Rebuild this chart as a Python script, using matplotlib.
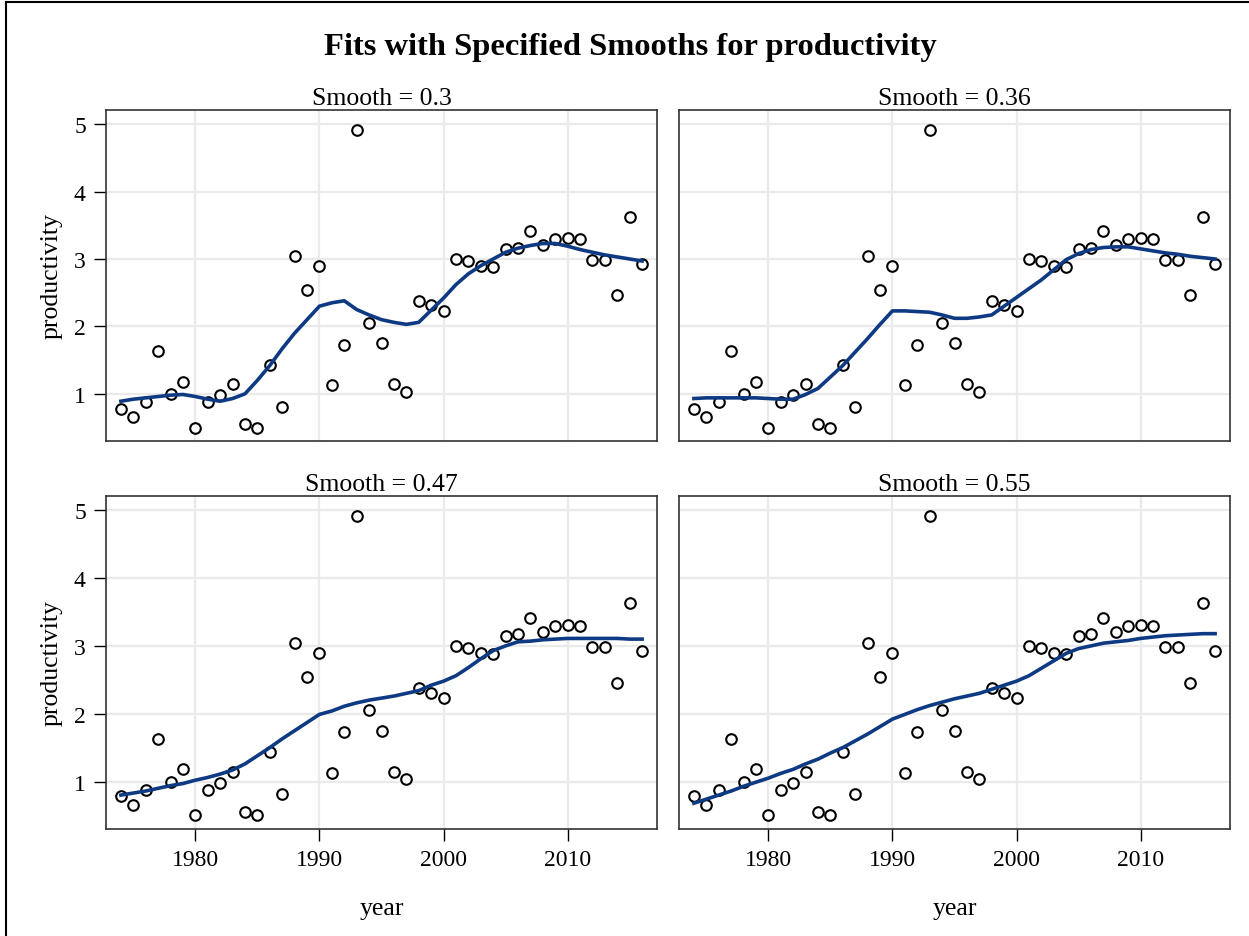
""" Fits with specified smooths for productivity (4 panel loess figure) """

import matplotlib
matplotlib.use("Agg")
from matplotlib import pyplot as plt
from matplotlib.lines import Line2D

plt.rcParams['font.family'] = ['Liberation Serif', 'DejaVu Serif']

years = list(range(1974, 2017))

productivity = [0.78, 0.65, 0.88, 1.63, 1.00, 1.18, 0.50, 0.88, 0.98, 1.14,
                0.55, 0.50, 1.43, 0.81, 3.04, 2.54, 2.90, 1.13, 1.73, 4.92,
                2.05, 1.75, 1.14, 1.03, 2.38, 2.31, 2.23, 3.00, 2.97, 2.89,
                2.88, 3.15, 3.17, 3.41, 3.21, 3.30, 3.31, 3.29, 2.99, 2.99,
                2.46, 3.63, 2.92]

smooth_labels = ["0.3", "0.36", "0.47", "0.55"]

fit_030 = [0.89, 0.92, 0.94, 0.96, 0.98, 0.99, 0.96, 0.92, 0.89, 0.93,
           1.00, 1.20, 1.42, 1.67, 1.90, 2.10, 2.30, 2.35, 2.38, 2.25,
           2.17, 2.10, 2.06, 2.03, 2.06, 2.24, 2.42, 2.62, 2.78, 2.90,
           3.00, 3.10, 3.16, 3.20, 3.23, 3.23, 3.19, 3.14, 3.10, 3.06,
           3.03, 3.00, 2.97]

fit_036 = [0.93, 0.94, 0.94, 0.94, 0.94, 0.94, 0.93, 0.92, 0.92, 0.99,
           1.08, 1.25, 1.42, 1.62, 1.82, 2.03, 2.23, 2.23, 2.22, 2.21,
           2.17, 2.12, 2.12, 2.14, 2.17, 2.30, 2.43, 2.56, 2.69, 2.84,
           2.99, 3.08, 3.14, 3.17, 3.18, 3.18, 3.15, 3.12, 3.09, 3.07,
           3.04, 3.02, 3.00]

fit_047 = [0.80, 0.83, 0.86, 0.90, 0.94, 0.97, 1.02, 1.06, 1.11, 1.17,
           1.26, 1.38, 1.50, 1.63, 1.75, 1.87, 1.99, 2.04, 2.11, 2.16,
           2.20, 2.23, 2.26, 2.30, 2.34, 2.42, 2.48, 2.56, 2.68, 2.81,
           2.93, 3.00, 3.06, 3.07, 3.09, 3.10, 3.11, 3.11, 3.11, 3.11,
           3.11, 3.10, 3.10]

fit_055 = [0.68, 0.74, 0.80, 0.86, 0.93, 0.99, 1.05, 1.12, 1.18, 1.26,
           1.33, 1.42, 1.50, 1.60, 1.70, 1.81, 1.92, 1.99, 2.06, 2.12,
           2.17, 2.22, 2.26, 2.30, 2.36, 2.42, 2.48, 2.56, 2.67, 2.78,
           2.89, 2.96, 3.00, 3.04, 3.06, 3.08, 3.11, 3.13, 3.15, 3.16,
           3.17, 3.18, 3.18]

fits = [fit_030, fit_036, fit_047, fit_055]

W, H = 1249, 937
fig = plt.figure(figsize=(W / 100, H / 100), dpi=100)


def px_axes(left, top, right, bottom):
    """ add axes from pixel box """
    return fig.add_axes([left / W, 1 - bottom / H, (right - left) / W, (bottom - top) / H])


boxes = [(106, 111, 657, 442), (679, 111, 1230, 442),
         (106, 497, 657, 830), (679, 497, 1230, 830)]

line_col = '#0E3A84'
for i, (box, fit, lab) in enumerate(zip(boxes, fits, smooth_labels)):
    ax = px_axes(*box)
    ax.set_xlim(1972.8, 2017.2)
    ax.set_ylim(0.30, 5.21)
    ax.set_axisbelow(True)
    ax.grid(True, color='#EAEAEA', linewidth=1.6)
    ax.set_xticks([1980, 1990, 2000, 2010])
    ax.set_yticks([1, 2, 3, 4, 5])
    ax.scatter(years, productivity, s=58, facecolors='white', edgecolors='black',
               linewidths=1.5, zorder=3)
    ax.plot(years, fit, color=line_col, linewidth=2.6, zorder=4)
    for sp in ax.spines.values():
        sp.set_linewidth(1.2)
        sp.set_color('#333333')
    ax.tick_params(direction='out', length=8.5, width=1.0, labelsize=17, pad=6)
    ax.set_title(f"Smooth = {lab}", fontsize=18.5, pad=4)
    if i % 2 == 0:
        ax.set_ylabel("productivity", fontsize=18.5, labelpad=8)
    else:
        ax.tick_params(axis='y', left=False, labelleft=False)
    if i >= 2:
        ax.set_xlabel("year", fontsize=18.5, labelpad=19)
    else:
        ax.tick_params(axis='x', bottom=False, labelbottom=False)

fig.text(630 / W, 1 - 47 / H, "Fits with Specified Smooths for productivity",
         ha='center', va='center', fontsize=23.4, fontweight='bold')

# outer frame (left and top edges)
fig.add_artist(Line2D([6 / W, 6 / W], [0, 1 - 3 / H], transform=fig.transFigure,
                      color='black', linewidth=1.5))
fig.add_artist(Line2D([6 / W, 1], [1 - 3 / H, 1 - 3 / H], transform=fig.transFigure,
                      color='black', linewidth=1.5))

fig.savefig("out.png", dpi=100)
